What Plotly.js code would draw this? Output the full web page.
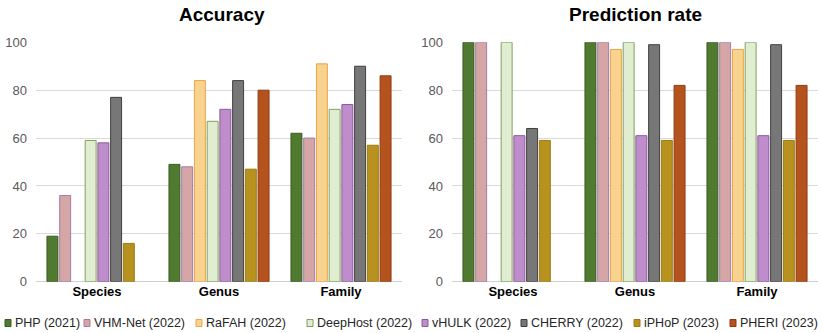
<!DOCTYPE html>
<html>
<head>
<meta charset="utf-8">
<script src="https://cdn.plot.ly/plotly-3.0.1.min.js"></script>
<style>html,body{margin:0;padding:0;background:#fff;}#chart{width:821px;height:333px;}</style>
</head>
<body>
<div id="chart"></div>
<script>
const categories = ["Species", "Genus", "Family"];
const methods = ["PHP (2021)", "VHM-Net (2022)", "RaFAH (2022)", "DeepHost (2022)", "vHULK (2022)", "CHERRY (2022)", "iPHoP (2023)", "PHERI (2023)"];

// Accuracy (%) per method: [Species, Genus, Family]
const accPHP      = [19, 49, 62];
const accVHMNet   = [36, 48, 60];
const accRaFAH    = [null, 84, 91];
const accDeepHost = [59, 67, 72];
const accVHULK    = [58, 72, 74];
const accCHERRY   = [77, 84, 90];
const accIPHoP    = [16, 47, 57];
const accPHERI    = [null, 80, 86];

// Prediction rate (%) per method: [Species, Genus, Family]
const prPHP      = [100, 100, 100];
const prVHMNet   = [100, 100, 100];
const prRaFAH    = [null, 97, 97];
const prDeepHost = [100, 100, 100];
const prVHULK    = [61, 61, 61];
const prCHERRY   = [64, 99, 99];
const prIPHoP    = [59, 59, 59];
const prPHERI    = [null, 82, 82];

const yTicks = [0, 20, 40, 60, 80, 100];

const accSeries = [accPHP, accVHMNet, accRaFAH, accDeepHost, accVHULK, accCHERRY, accIPHoP, accPHERI];
const prSeries  = [prPHP, prVHMNet, prRaFAH, prDeepHost, prVHULK, prCHERRY, prIPHoP, prPHERI];

const fills = ["#4f7a30", "#d4a6a6", "#f8d28f", "#e0edd0", "#bf8dcc", "#777777", "#b8921f", "#b5531f"];
const lines = ["#3b5c22", "#a77ba8", "#eaa545", "#7fa05c", "#8a5b9a", "#3f3f3f", "#9c7a16", "#8f3b12"];

const FONT = "Liberation Sans, Arial, sans-serif";
const traces = [];
methods.forEach((m, i) => {
  traces.push({type: "bar", name: m, x: categories, y: accSeries[i], xaxis: "x", yaxis: "y",
    marker: {color: fills[i], line: {color: lines[i], width: 1}}, showlegend: false, hoverinfo: "none"});
});
methods.forEach((m, i) => {
  traces.push({type: "bar", name: m, x: categories, y: prSeries[i], xaxis: "x2", yaxis: "y2",
    marker: {color: fills[i], line: {color: lines[i], width: 1}}, showlegend: false, hoverinfo: "none"});
});

const W = 821, H = 333;
const yDom = [(H - 281.7) / H, (H - 42.3) / H];
const axY = {range: [0, 100], tickvals: yTicks, showgrid: true, gridcolor: "#d9d9d9", gridwidth: 1,
  zeroline: true, zerolinecolor: "#d0d0d0", zerolinewidth: 1, showline: false, ticks: "",
  tickfont: {family: FONT, size: 13, color: "#595959"}, ticklabelstandoff: 8, domain: yDom, automargin: false, fixedrange: true};
const axX = {type: "category", showgrid: false, zeroline: false, showline: false, ticks: "",
  tickfont: {family: FONT, size: 13, color: "#000", weight: "bold"}, automargin: false, fixedrange: true};

// custom legend
const legendTextX = [13, 92, 204, 315, 430, 529, 642, 738];
const legendY = 323;
const annotations = [
  {text: "Accuracy", x: 222 / W, y: 1 - 15 / H, xref: "paper", yref: "paper", xanchor: "center", yanchor: "middle", showarrow: false,
   font: {family: FONT, size: 19, color: "#000", weight: "bold"}},
  {text: "Prediction rate", x: 635 / W, y: 1 - 15 / H, xref: "paper", yref: "paper", xanchor: "center", yanchor: "middle", showarrow: false,
   font: {family: FONT, size: 19, color: "#000", weight: "bold"}}
];
const shapes = [];
methods.forEach((m, i) => {
  annotations.push({text: m, x: legendTextX[i] / W, y: 1 - legendY / H, xref: "paper", yref: "paper", xanchor: "left", yanchor: "middle",
    showarrow: false, font: {family: FONT, size: 12.5, color: "#262626"}});
  const sx = legendTextX[i] - 8;
  shapes.push({type: "rect", xref: "paper", yref: "paper", x0: sx / W, x1: (sx + 6) / W, y0: 1 - (legendY + 3.5) / H, y1: 1 - (legendY - 3.5) / H,
    fillcolor: fills[i], line: {color: lines[i], width: 1}});
});

const layout = {
  width: W, height: H, margin: {l: 0, r: 0, t: 0, b: 0}, paper_bgcolor: "#fff", plot_bgcolor: "rgba(0,0,0,0)",
  barmode: "group", bargap: 0.165, bargroupgap: 0.14, showlegend: false,
  xaxis: Object.assign({}, axX, {domain: [36 / W, 402 / W], anchor: "y"}),
  yaxis: Object.assign({}, axY, {anchor: "x"}),
  xaxis2: Object.assign({}, axX, {domain: [452 / W, 818 / W], anchor: "y2"}),
  yaxis2: Object.assign({}, axY, {anchor: "x2"}),
  annotations: annotations, shapes: shapes,
  font: {family: FONT}
};
Plotly.newPlot("chart", traces, layout, {displayModeBar: false, staticPlot: true});
</script>
</body>
</html>
